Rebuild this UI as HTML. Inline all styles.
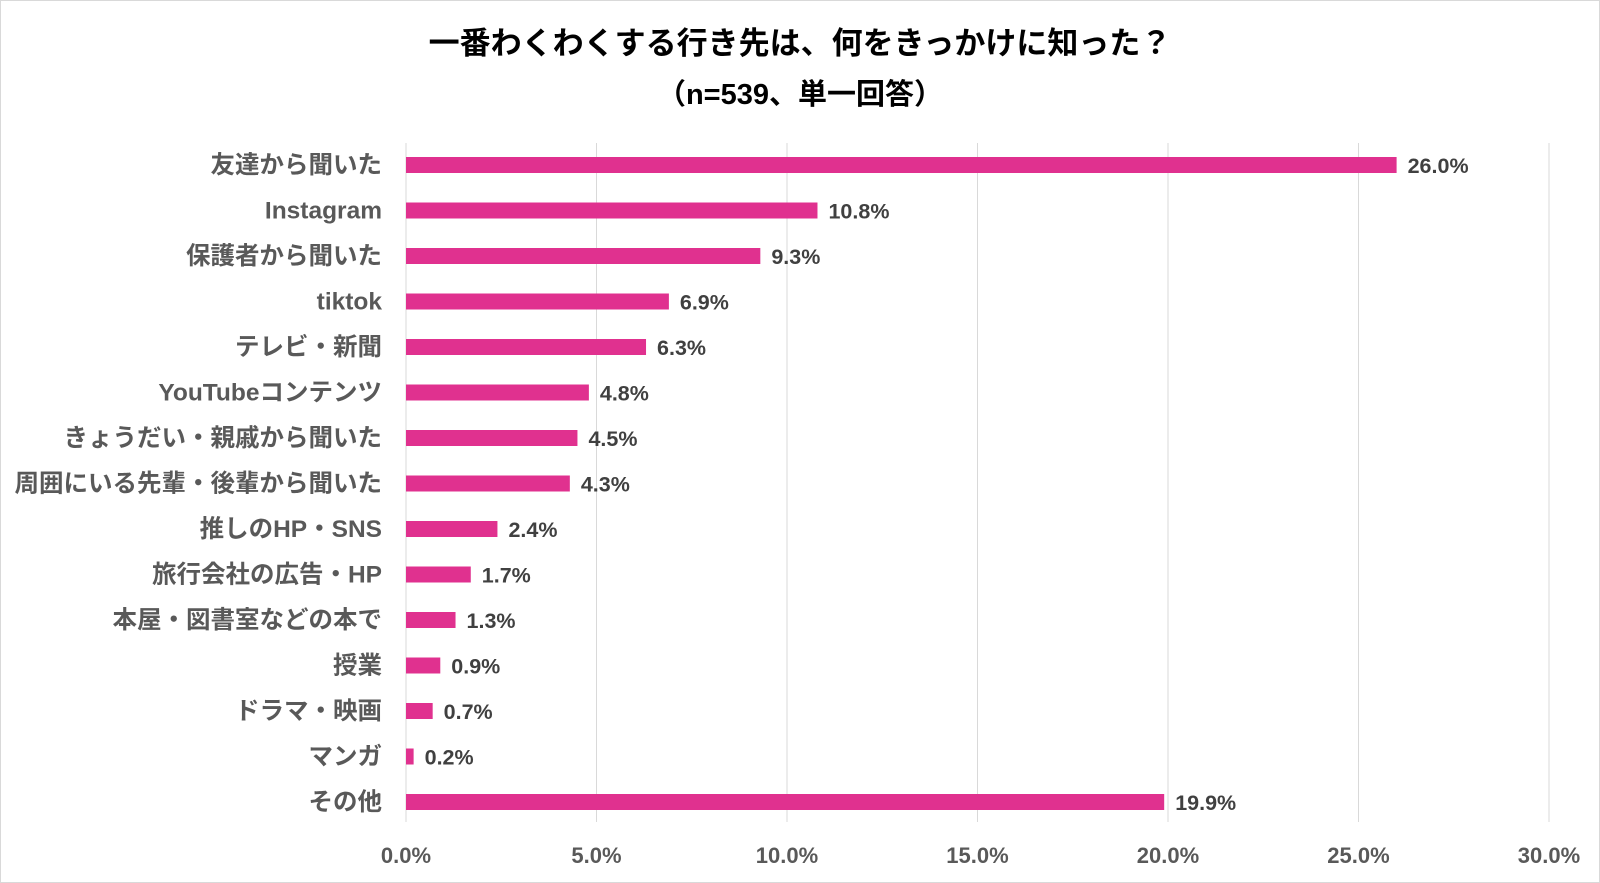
<!DOCTYPE html>
<html><head><meta charset="utf-8"><style>
body{margin:0;background:#fff;}
svg{display:block;font-family:"Liberation Sans","Noto Sans CJK JP",sans-serif;}
</style></head><body>
<svg id="chart" width="1600" height="883" viewBox="0 0 1600 883">
<rect x="0.5" y="0.5" width="1599" height="882" fill="#fff" stroke="#d9d9d9"/>
<text x="800" y="54" text-anchor="middle" font-size="31" font-weight="bold" fill="#000">一番わくわくする行き先は、何をきっかけに知った？</text>
<text x="800" y="104" text-anchor="middle" font-size="29" font-weight="bold" fill="#000">（n=539、単一回答）</text>
<g id="grid"></g><g id="bars"></g><g id="labels"></g>
</svg>
<script>
const categories=["友達から聞いた","Instagram","保護者から聞いた","tiktok","テレビ・新聞","YouTubeコンテンツ","きょうだい・親戚から聞いた","周囲にいる先輩・後輩から聞いた","推しのHP・SNS","旅行会社の広告・HP","本屋・図書室などの本で","授業","ドラマ・映画","マンガ","その他"];
const values=[26.0,10.8,9.3,6.9,6.3,4.8,4.5,4.3,2.4,1.7,1.3,0.9,0.7,0.2,19.9];
const ticks=[0,5,10,15,20,25,30];
const tickLabels=["0.0%","5.0%","10.0%","15.0%","20.0%","25.0%","30.0%"];
const NS="http://www.w3.org/2000/svg";
const x=v=>406+v*(1549-406)/30;
const y=i=>165+i*(802-165)/14;
function mk(tag,attrs,parent,text){const e=document.createElementNS(NS,tag);for(const k in attrs)e.setAttribute(k,attrs[k]);if(text!==undefined)e.textContent=text;document.getElementById(parent).appendChild(e);return e;}
ticks.forEach((t,i)=>{
 const l=mk('line',{x1:x(t),x2:x(t),y1:143,y2:822,stroke:'#d9d9d9','stroke-width':1},'grid');
 
 
 const tx=mk('text',{x:x(t),y:863,'text-anchor':'middle','font-size':22,'font-weight':'bold',fill:'#595959'},'grid',tickLabels[i]);
 
 
});
categories.forEach((c,i)=>{
 const b=mk('rect',{x:x(0),y:y(i)-8,width:x(values[i])-x(0),height:16,fill:'#e0318f'},'bars');
 
 
 const cl=mk('text',{x:382,y:y(i)+8,'text-anchor':'end','font-size':24.5,'font-weight':'bold',fill:'#595959'},'labels',c);
 
 
 const vl=mk('text',{x:x(values[i])+11,y:y(i)+8,'font-size':21.5,'font-weight':'bold',fill:'#404040'},'labels',values[i].toFixed(1)+'%');
 
 
});
</script>
</body></html>
